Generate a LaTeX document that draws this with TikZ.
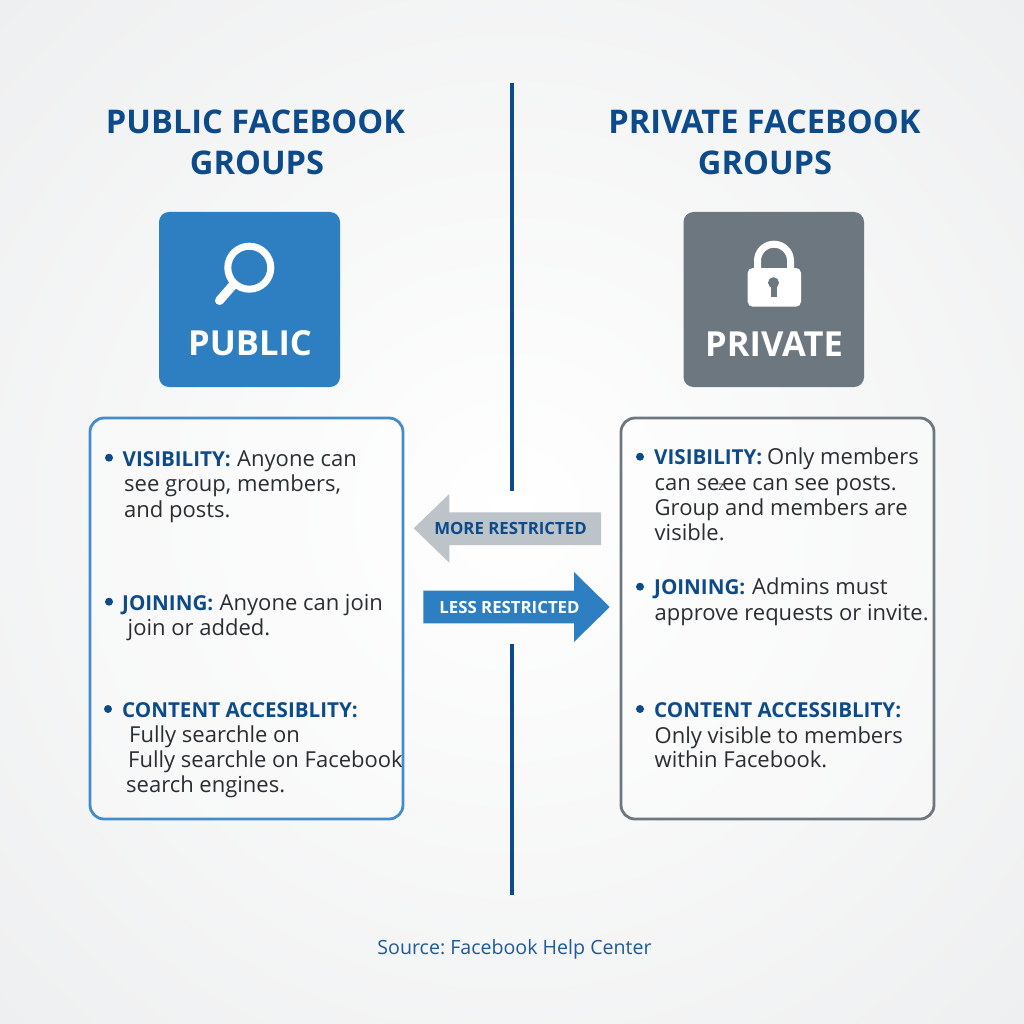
\documentclass[tikz,border=0pt]{standalone}
\usepackage{fontspec}
\setmainfont{Open Sans}
\usetikzlibrary{positioning}
\frenchspacing

\definecolor{titleblue}{HTML}{0D4A8A}
\definecolor{linkblue}{HTML}{1F5A96}
\definecolor{publicblue}{HTML}{2E7FC1}
\definecolor{privategray}{HTML}{6C7780}
\definecolor{arrowgray}{HTML}{BCC3C9}
\definecolor{bodydark}{HTML}{2A2E33}
\definecolor{edgegray}{HTML}{EDEEEF}

\tikzset{
    titletext/.style={font=\fontsize{32.6}{33}\selectfont\bfseries, text=titleblue, inner sep=0pt, anchor=base},
    badgetext/.style={font=\fontsize{34.5}{35}\selectfont\bfseries, text=white, inner sep=0pt, anchor=base},
    badge/.style={rounded corners=10, draw=none},
    infobox/.style={rounded corners=14, line width=2.8, fill=white, fill opacity=0.35},
    bodytext/.style={font=\fontsize{22}{22}\selectfont, text=bodydark, inner sep=0pt, anchor=base west},
    headtext/.style={font=\fontsize{20.6}{21}\selectfont\bfseries, text=titleblue, inner sep=0pt, anchor=base west},
    arrowtext/.style={font=\fontsize{16.8}{17}\selectfont\bfseries, inner sep=0pt, anchor=base},
    bulletdot/.style={circle, fill=titleblue, inner sep=0pt, minimum size=8},
    divider/.style={draw=titleblue, line width=4.5}
}

\begin{document}
\begin{tikzpicture}[x=1pt,y=-1pt]

% Background
\useasboundingbox (0,0) rectangle (1024,1024);
\begin{scope}
\clip (0,0) rectangle (1024,1024);
\shade[inner color=white, outer color=edgegray] (-260,-260) rectangle (1284,1284);
\end{scope}

% Divider, broken round the arrows
\coordinate (divtop) at (512,83);
\coordinate (divgap1) at (512,491);
\coordinate (divgap2) at (512,644);
\coordinate (divbot) at (512,895);
\draw[divider] (divtop) -- (divgap1);
\draw[divider] (divgap2) -- (divbot);

% Titles
\node[titletext] (pubtitle1) at (255.5,134) {PUBLIC FACEBOOK};
\node[titletext] (pubtitle2) at (257,175) {GROUPS};
\node[titletext] (privtitle1) at (764.5,134) {PRIVATE FACEBOOK};
\node[titletext] (privtitle2) at (765,175) {GROUPS};

% Public badge
\fill[badge, fill=publicblue] (159,212) rectangle (340,387);
\draw[white, line width=7] (249.3,267.7) circle (21.5);
\draw[white, line width=9, line cap=round] (233,285) -- (219.5,300.5);
\node[badgetext] (publabel) at (250,355) {PUBLIC};

% Private badge
\fill[badge, fill=privategray] (683.5,212) rectangle (864,387);
\draw[white, line width=7] (757.5,272) -- (757.5,260.7) arc (180:360:16.5) -- (790.5,272);
\fill[white, rounded corners=5] (747.7,268) rectangle (801,306.7);
\fill[privategray] (773.5,282.7) circle (5.5);
\fill[privategray] (770.5,284) rectangle (776.5,297);
\node[badgetext] (privlabel) at (774,356) {PRIVATE};

% Info boxes
\draw[infobox, draw=publicblue!90!white] (90,418) rectangle (403,819);
\draw[infobox, draw=privategray] (621,418) rectangle (934,819);

% Public bullets
\foreach \x/\y [count=\i] in {109/457.7, 109/601.7, 108/709}
{
    \node[bulletdot] (pubdot\i) at (\x,\y) {};
}
\node[headtext] (pubhead1) at (122.5,466.7) {VISIBILITY:};
\node[headtext] (pubhead2) at (122,610) {JOINING:};
\node[headtext] (pubhead3) at (122,717) {CONTENT ACCESIBLITY:};
\foreach \x/\y/\txt [count=\i] in {
    237/466.7/{Anyone can},
    124/491.7/{see group, members,},
    124/517/{and posts.},
    219.5/610/{Anyone can join},
    127.5/635.7/{join or added.},
    129/742/{Fully searchle on},
    128/767.3/{Fully searchle on Facebook},
    126/792/{search engines.}}
{
    \node[bodytext] (publine\i) at (\x,\y) {\txt};
}

% Private bullets
\foreach \x/\y [count=\i] in {640/456.7, 640/586.7, 640/709}
{
    \node[bulletdot] (privdot\i) at (\x,\y) {};
}
\node[headtext] (privhead1) at (654,464) {VISIBILITY:};
\node[headtext] (privhead2) at (654,594) {JOINING:};
\node[headtext] (privhead3) at (654,717) {CONTENT ACCESSIBLITY:};
\foreach \x/\y/\txt [count=\i] in {
    767/464/{Only members},
    654.5/490/{can se\kern-1pt{\fontsize{12}{12}\selectfont z}\kern-2pt ee can see posts.},
    654.5/515/{Group and members are},
    654.5/540/{visible.},
    752/594/{Admins must},
    654.5/620/{approve requests or invite.},
    654.5/743/{Only visible to members},
    654.5/767.7/{within Facebook.}}
{
    \node[bodytext] (privline\i) at (\x,\y) {\txt};
}

% Arrows
\fill[arrowgray] (413.7,528.3) -- (449.3,494) -- (449.3,512.3) -- (601,512.3) -- (601,545) -- (449.3,545) -- (449.3,562.7) -- cycle;
\node[arrowtext, text=titleblue] (morelabel) at (510.5,534.6) {MORE RESTRICTED};
\fill[publicblue] (423.3,590.7) -- (574,590.7) -- (574,572) -- (609.7,607) -- (574,642) -- (574,623.3) -- (423.3,623.3) -- cycle;
\node[arrowtext, text=white] (lesslabel) at (509.5,613) {LESS RESTRICTED};

% Source
\node[font=\fontsize{19.6}{20}\selectfont, text=linkblue, inner sep=0pt, anchor=base] (source) at (514.5,954) {Source: Facebook Help Center};

\end{tikzpicture}
\end{document}
